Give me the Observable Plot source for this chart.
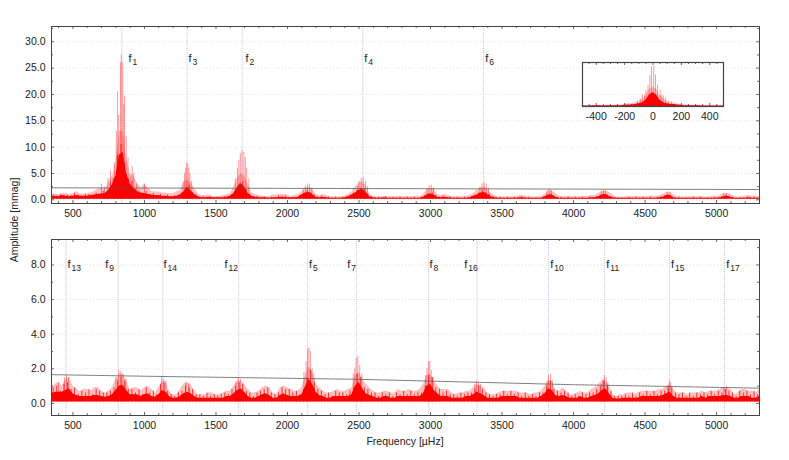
<!DOCTYPE html>
<html>
<head>
<meta charset="utf-8">
<script src="https://cdn.jsdelivr.net/npm/d3@7"></script>
<script src="https://cdn.jsdelivr.net/npm/@observablehq/plot@0.6"></script>
<style>
  body { margin: 0; background: white; font-family: "Liberation Sans", sans-serif; color: #222; }
  #chart { position: relative; width: 789px; height: 460px; overflow: hidden; }
  #chart > div { position: absolute; }
  #chart svg { display: block; }
  .axis-label { font-size: 10.5px; white-space: nowrap; }
</style>
</head>
<body>
<div id="chart">
  <div id="top" style="left:0;top:0"></div>
  <div id="bottom" style="left:0;top:220px"></div>
  <div id="inset" style="left:570px;top:50px"></div>
  <div class="axis-label" style="left:14px;top:220px;transform:translate(-50%,-50%) rotate(-90deg)">Amplitude [mmag]</div>
  <div class="axis-label" style="left:405px;top:441px;transform:translate(-50%,-50%)">Frequency [µHz]</div>
</div>
<script>
const freqGrid = [
  350,375,400,425,450,475,500,525,550,575,600,625,
  650,675,700,725,750,775,800,825,850,875,900,925,
  950,975,1000,1025,1050,1075,1100,1125,1150,1175,1200,1225,
  1250,1275,1300,1325,1350,1375,1400,1425,1450,1475,1500,1525,
  1550,1575,1600,1625,1650,1675,1700,1725,1750,1775,1800,1825,
  1850,1875,1900,1925,1950,1975,2000,2025,2050,2075,2100,2125,
  2150,2175,2200,2225,2250,2275,2300,2325,2350,2375,2400,2425,
  2450,2475,2500,2525,2550,2575,2600,2625,2650,2675,2700,2725,
  2750,2775,2800,2825,2850,2875,2900,2925,2950,2975,3000,3025,
  3050,3075,3100,3125,3150,3175,3200,3225,3250,3275,3300,3325,
  3350,3375,3400,3425,3450,3475,3500,3525,3550,3575,3600,3625,
  3650,3675,3700,3725,3750,3775,3800,3825,3850,3875,3900,3925,
  3950,3975,4000,4025,4050,4075,4100,4125,4150,4175,4200,4225,
  4250,4275,4300,4325,4350,4375,4400,4425,4450,4475,4500,4525,
  4550,4575,4600,4625,4650,4675,4700,4725,4750,4775,4800,4825,
  4850,4875,4900,4925,4950,4975,5000,5025,5050,5075,5100,5125,
  5150,5175,5200,5225,5250,5275,5300
];
const fringeFreq = [
  362,387,412,437,462,487,512,537,562,587,612,637,
  662,687,712,737,762,787,812,837,862,887,912,937,
  962,987,1012,1037,1062,1087,1112,1137,1162,1187,1212,1237,
  1262,1287,1312,1337,1362,1387,1412,1437,1462,1487,1512,1537,
  1562,1587,1612,1637,1662,1687,1712,1737,1762,1787,1812,1837,
  1862,1887,1912,1937,1962,1987,2012,2037,2062,2087,2112,2137,
  2162,2187,2212,2237,2262,2287,2312,2337,2362,2387,2412,2437,
  2462,2487,2512,2537,2562,2587,2612,2637,2662,2687,2712,2737,
  2762,2787,2812,2837,2862,2887,2912,2937,2962,2987,3012,3037,
  3062,3087,3112,3137,3162,3187,3212,3237,3262,3287,3312,3337,
  3362,3387,3412,3437,3462,3487,3512,3537,3562,3587,3612,3637,
  3662,3687,3712,3737,3762,3787,3812,3837,3862,3887,3912,3937,
  3962,3987,4012,4037,4062,4087,4112,4137,4162,4187,4212,4237,
  4262,4287,4312,4337,4362,4387,4412,4437,4462,4487,4512,4537,
  4562,4587,4612,4637,4662,4687,4712,4737,4762,4787,4812,4837,
  4862,4887,4912,4937,4962,4987,5012,5037,5062,5087,5112,5137,
  5162,5187,5212,5237,5262,5287
];

const topPeak = [
  1.0,1.1,1.0,1.1,1.2,1.0,1.1,1.6,1.1,1.1,1.2,1.3,
  1.6,2.0,2.2,1.9,3.5,4.5,7,13,13,8,5,4.5,
  3.2,2.2,3.0,2.2,1.6,1.5,1.5,1.3,1.3,1.1,1.2,1.5,
  1.8,3.2,3.8,3.2,2.2,1.1,.8,.8,.9,.7,.6,.7,
  .8,.9,1.2,2.5,4,5,4.5,3,1.3,1,.8,.7,
  .6,.6,.9,.9,1,1,.9,.6,.8,1,1.5,2.2,
  2.4,2.0,1,.8,1,.8,.6,.6,.6,.6,.7,1,
  1.5,2.5,3.2,3.4,2.6,1,.7,.6,.6,.7,.6,.6,
  .6,.7,.6,.6,.6,.6,.7,.7,1,1.8,2.2,2.0,
  1,.8,1,.8,.6,.6,.6,.6,.7,.8,1.2,1.8,
  2.2,2.5,2.0,1.2,.8,.6,.6,.6,.6,.6,.6,.8,
  .8,.6,.6,.5,.6,.6,1.0,1.7,1.7,1.2,.7,.6,
  .6,.7,.6,.6,.6,.7,.7,.8,.8,1.2,1.6,1.7,
  1.4,.9,.6,.5,.5,.6,.6,.7,.7,.6,.6,.7,
  .7,.7,.8,1.0,1.4,1.4,.9,.6,.6,.5,.6,.6,
  .6,.6,.6,.5,.6,.7,.7,.8,1.2,1.2,1.0,.7,
  .5,.6,.7,.8,.7,.7,.6
];
const topCore = [
  .6,.7,.6,.8,.7,.6,.7,.8,.7,.7,.7,.8,
  .9,1.0,1.1,1.2,1.8,2.8,4.5,8.5,9,5,3,2.2,
  1.6,1.3,1.2,1.0,.9,.8,.8,.7,.7,.6,.6,.7,
  .9,1.5,2.4,1.7,1.0,.6,.4,.4,.5,.4,.4,.4,
  .4,.5,.7,1.2,2.4,3.1,2.4,1.2,.7,.5,.4,.4,
  .4,.3,.4,.4,.5,.5,.4,.4,.4,.5,.9,1.3,
  1.4,1.0,.5,.4,.5,.4,.3,.3,.3,.3,.4,.6,
  .9,1.3,1.8,2.0,1.4,.6,.4,.3,.3,.4,.3,.3,
  .3,.3,.3,.3,.3,.3,.3,.3,.5,.9,1.1,.9,
  .5,.4,.5,.4,.3,.3,.3,.3,.3,.4,.7,.9,
  1.3,1.4,1.0,.6,.4,.3,.3,.3,.3,.3,.3,.4,
  .4,.3,.3,.3,.3,.3,.6,.9,.9,.5,.3,.3,
  .3,.3,.3,.3,.3,.3,.3,.4,.4,.6,.9,1.0,
  .7,.4,.3,.3,.3,.3,.3,.3,.3,.3,.3,.3,
  .3,.3,.4,.5,.8,.8,.4,.3,.3,.3,.3,.3,
  .3,.3,.3,.3,.3,.3,.3,.4,.6,.7,.5,.3,
  .3,.3,.3,.4,.3,.3,.3
];
const topFringe = [
  .9,.7,1.0,.8,.9,.8,1.2,.9,.7,1.0,1.0,.8,
  1.3,1.0,1.6,1.4,3.2,4.2,8.5,10.5,7,4.0,3.5,2.0,
  1.7,1.2,1.6,1.0,1.2,.8,1.0,.7,.9,.6,.8,.9,
  1.3,2.2,2.8,1.4,.9,.5,.6,.4,.6,.3,.5,.4,
  .6,.5,1.0,1.8,3.0,3.4,1.8,1.0,.6,.7,.4,.6,
  .3,.5,.4,.7,.5,.7,.4,.5,.4,.8,1.2,1.7,
  1.4,.9,.5,.7,.4,.5,.3,.5,.3,.5,.6,.8,
  1.3,1.8,2.2,2.0,1.1,.6,.4,.5,.3,.6,.3,.5,
  .3,.5,.3,.5,.3,.5,.3,.5,.8,1.2,1.3,.8,
  .5,.7,.4,.6,.3,.5,.3,.5,.4,.6,.9,1.3,
  1.7,1.4,1.0,.6,.4,.5,.3,.5,.3,.5,.3,.6,
  .4,.5,.3,.4,.3,.5,.9,1.1,.8,.5,.5,.3,
  .5,.3,.5,.3,.5,.3,.5,.4,.6,.9,1.1,.9,
  .6,.4,.3,.4,.3,.5,.3,.5,.3,.5,.3,.5,
  .3,.5,.6,.8,1.0,.7,.4,.5,.3,.4,.3,.5,
  .3,.5,.3,.4,.3,.5,.4,.6,.8,.7,.5,.3,
  .4,.3,.5,.4,.5,.3
];
const topSpikeFreq = [700,720,745,762,778,790,803,811,820,832,838,848,855,860,872,885,900,914,925,945,1000,
  1270,1280,1288,1295,1303,1310,1318,1330,1635,1650,1660,1670,1682,1695,1705,1715,1730,
  2110,2125,2140,2155,2170,2490,2500,2515,2530,2545,2560,2975,2990,3005,3020,3345,3360,3375,3390,3405,
  3815,3830,3845,4195,4210,4225,4655,4675,5050,5070];
const topSpikeAmp = [3.0,2.4,4,5.5,4,7,13,20.5,16,26,27.5,26,18,19.7,12,8,4.5,6.3,5,3,3,
  3.5,5,6,7,6.8,6,5,3.5,4,6,7.5,8.8,9.3,9,8,6,4,
  2,2.7,3,2.9,2.2,2.5,3.5,4.1,4.2,3.5,2.5,2.2,2.7,2.8,2.3,2.4,3,3.3,3,2.2,
  1.7,2,1.8,1.6,1.9,1.7,1.5,1.5,1.2,1.2];

const botPeak = [
  .9,1.1,1.2,1.0,1.4,1.5,1.0,.8,.7,.8,.8,.7,
  .9,.95,.7,.6,.7,.9,1.4,1.7,1.7,1.3,.8,.9,
  .9,.7,.9,1.0,.8,.6,.9,1.3,1.2,.7,.5,.5,
  .8,1.1,1.2,1.1,.7,.5,.5,.5,.6,.6,.5,.5,
  .6,.7,.7,1.0,1.3,1.3,1.1,.8,.6,.6,.7,.9,
  1.0,.9,.6,.5,.9,1.0,.9,.8,.7,.7,.9,1.6,
  2.1,1.8,1.1,.9,.7,.6,.6,.7,.8,.7,.7,.8,
  .9,1.6,1.8,1.4,1.1,.9,.7,.6,.6,.7,.7,.6,
  .6,.8,.7,.7,.8,.7,.7,.8,1.1,1.6,1.7,1.3,
  1.0,.8,.8,.8,.6,.5,.6,.6,.7,.7,.9,1.1,
  1.0,.9,.6,.5,.5,.6,.7,.7,.7,.7,.7,.6,
  .6,.6,.5,.6,.6,.7,1.0,1.3,1.3,.8,.7,.9,
  .7,.5,.5,.6,.7,.6,.6,.8,.9,1.1,1.3,1.3,
  1.0,.5,.4,.5,.5,.6,.6,.5,.6,.7,.7,.7,
  .7,.7,.8,.8,1.0,1.1,.8,.6,.6,.6,.5,.6,
  .6,.6,.7,.6,.7,.7,.7,.8,.9,.9,.8,.5,
  .6,.8,.8,.7,.7,.6,.8
];
const botCore = [
  .55,.65,.65,.65,.75,.85,.55,.45,.4,.4,.4,.4,
  .45,.45,.4,.35,.4,.5,.75,1.0,1.05,.75,.5,.5,
  .5,.4,.5,.55,.4,.35,.5,.75,.65,.4,.3,.3,
  .4,.55,.65,.55,.4,.3,.3,.3,.3,.3,.3,.3,
  .3,.4,.4,.55,.75,.85,.65,.4,.3,.3,.4,.5,
  .55,.45,.3,.3,.45,.55,.45,.4,.4,.4,.5,.95,
  1.4,1.1,.65,.45,.4,.3,.3,.4,.4,.4,.4,.4,
  .5,1.0,1.2,.85,.55,.45,.4,.3,.3,.4,.4,.3,
  .3,.4,.4,.4,.4,.4,.4,.4,.55,1.0,1.1,.75,
  .55,.4,.4,.4,.3,.3,.3,.3,.4,.4,.5,.65,
  .55,.45,.3,.3,.3,.3,.4,.4,.4,.4,.4,.3,
  .3,.3,.3,.3,.3,.4,.55,.85,.75,.45,.4,.45,
  .4,.3,.3,.3,.4,.3,.3,.4,.45,.55,.75,.85,
  .55,.3,.25,.25,.3,.3,.3,.3,.3,.4,.4,.4,
  .4,.4,.4,.45,.55,.65,.4,.3,.3,.3,.3,.3,
  .3,.3,.4,.3,.4,.4,.4,.4,.45,.45,.4,.3,
  .3,.4,.4,.4,.3,.3,.4
];
const botFringe = [
  .9,1.0,.7,1.1,1.2,.8,.9,.5,.7,.6,.8,.5,
  .8,.7,.6,.6,.7,.9,1.3,1.5,1.3,.8,.8,.6,
  .8,.5,.9,.6,.7,.5,1.1,1.2,.7,.5,.4,.6,
  .7,1.0,.9,.8,.5,.5,.4,.6,.4,.5,.4,.5,
  .6,.5,.8,1.0,1.2,1.1,.7,.6,.4,.6,.7,.8,
  .9,.6,.5,.6,.9,.8,.8,.6,.7,.5,.8,1.5,
  1.9,1.2,.8,.7,.5,.6,.4,.7,.6,.6,.5,.7,
  .9,1.7,1.5,.9,.8,.6,.6,.4,.6,.5,.6,.4,
  .6,.5,.7,.5,.7,.5,.6,.6,1.0,1.6,1.5,.9,
  .8,.6,.7,.5,.5,.4,.6,.5,.6,.6,.8,1.0,
  .8,.6,.5,.4,.5,.5,.7,.5,.7,.5,.6,.4,
  .6,.4,.5,.4,.6,.6,1.0,1.3,.8,.7,.6,.7,
  .6,.4,.5,.4,.6,.5,.6,.6,.8,1.0,1.3,1.0,
  .7,.4,.4,.4,.5,.4,.6,.4,.6,.5,.7,.5,
  .7,.5,.7,.7,.9,.9,.6,.5,.6,.4,.6,.4,
  .6,.5,.6,.5,.7,.5,.7,.6,.8,.7,.6,.4,
  .7,.6,.7,.5,.7,.5
];
const botSpikeFreq = [400,440,455,470,800,820,835,850,870,1120,1135,1150,1290,1310,1640,1655,1670,
  2115,2130,2140,2150,2160,2172,2185,2460,2470,2480,2492,2505,2520,
  2965,2975,2985,2995,3005,3018,3310,3320,3335,3350,3815,3825,3840,3852,4195,4205,4215,4228,4240,4660,4670,4680,5050,5070];
const botSpikeAmp = [1.2,1.5,1.6,1.5,1.5,1.9,1.85,1.7,1.4,1.55,1.4,1.3,1.2,1.1,1.2,1.5,1.4,
  1.8,2.4,3.1,3.2,3.0,2.0,1.7,1.7,2,2.6,2.7,2.2,1.7,
  1.6,2.0,2.4,2.45,1.9,1.5,1.1,1.3,1.2,1.1,1.3,1.6,1.7,1.3,1.1,1.4,1.6,1.5,1.2,1.0,1.3,1.2,.9,1.0];

const topLineFreq = [842,1298,1683,2526,3370];
const topNames = ["1","3","2","4","6"];
const topLabelFreq = [888,1307,1706,2537,3383];
const botLineFreq = [451,816,1128,1659,2141,2481,2987,3325,3825,4217,4671,5055];
const botNames = ["13","9","14","12","5","7","8","16","10","11","15","17"];
const botLabelFreq = [462,725,1133,1559,2150,2418,2992,3236,3837,4229,4682,5067];

const topNoiseFreq = [350,2350,5300];
const topNoiseAmp = [2.28,2.15,1.95];
const botNoiseFreq = [350,1000,2500,4000,5300];
const botNoiseAmp = [1.66,1.57,1.39,1.08,.88];

const xTicks = [500,1000,1500,2000,2500,3000,3500,4000,4500,5000];
const xMinor = [400,600,700,800,900,1100,1200,1300,1400,1600,1700,1800,1900,2100,2200,2300,2400,2600,2700,2800,2900,3100,3200,3300,3400,3600,3700,3800,3900,4100,4200,4300,4400,4600,4700,4800,4900,5100,5200,5300];
const topYTicks = [0,5,10,15,20,25,30];
const topYMinor = [2.5,7.5,12.5,17.5,22.5,27.5,32.5];
const botYTicks = [0,2,4,6,8];
const botYMinor = [1,3,5,7,9];

const winFreq = [-500,-475,-450,-425,-400,-375,-350,-325,-300,-275,-250,-225,-200,-175,-150,-125,-100,-75,-50,-25,0,25,50,75,100,125,150,175,200,225,250,275,300,325,350,375,400,425,450,475,500];
const winPeak = [.02,.02,.02,.02,.03,.03,.02,.03,.03,.03,.04,.04,.05,.07,.07,.09,.12,.18,.28,.45,.5,.45,.28,.2,.13,.09,.09,.06,.05,.04,.04,.03,.03,.03,.02,.02,.02,.02,.02,.02,.02];
const winCore = [.01,.01,.01,.02,.02,.02,.01,.02,.02,.02,.02,.02,.03,.04,.04,.05,.07,.1,.16,.3,.36,.3,.16,.1,.07,.05,.05,.04,.03,.02,.02,.02,.02,.02,.01,.01,.01,.01,.01,.01,.01];
const winSpikeFreq = [-110,-90,-75,-60,-50,-35,-22,-10,5,18,32,50,62,72,90,110,130];
const winSpikeAmp = [.14,.2,.3,.28,.42,.55,.8,1.02,1.04,.82,.55,.42,.3,.27,.22,.14,.12];
const winTicks = [-400,-200,0,200,400];
const winMinor = [-450,-350,-300,-250,-150,-100,-50,50,100,150,250,300,350,450];

const plotStyle = { background: "transparent", fontFamily: "Liberation Sans, sans-serif", fontSize: "10.5px", color: "#222" };
const red = "#ff0000";
const tickColor = "#444";

function redMarks(freqs, core, peak, fringe, spikeFreq, spikeAmp, floor) {
  const rows = freqs.map((f, i) => ({ f, core: core[i], peak: peak[i] }));
  const spikes = spikeFreq.map((f, i) => ({ f, a: spikeAmp[i] }));
  const comb = fringe ? fringeFreq.map((f, i) => ({ f, a: fringe[i] })) : [];
  return [
    Plot.areaY(rows, { x: "f", y1: floor, y2: "peak", fill: red, fillOpacity: 0.25 }),
    Plot.ruleX(spikes, { x: "f", y1: floor, y2: "a", stroke: red, strokeOpacity: 0.4, strokeWidth: 1 }),
    Plot.areaY(rows, { x: "f", y1: floor, y2: "core", fill: red }),
    Plot.ruleX(comb, { x: "f", y1: floor, y2: "a", stroke: red, strokeOpacity: 0.75, strokeWidth: 1 })
  ];
}

// gnuplot style ticks: short, pointing into the frame, on all four sides
function tickMarks(xMaj, xMin, innerW, innerH, yMaj, yMin) {
  const sideX = (v, len) => [
    Plot.ruleX(v, { insetTop: innerH - len, stroke: tickColor, strokeWidth: 0.8 }),
    Plot.ruleX(v, { insetBottom: innerH - len, stroke: tickColor, strokeWidth: 0.8 })
  ];
  const sideY = (v, len) => [
    Plot.ruleY(v, { insetRight: innerW - len, stroke: tickColor, strokeWidth: 0.8 }),
    Plot.ruleY(v, { insetLeft: innerW - len, stroke: tickColor, strokeWidth: 0.8 })
  ];
  const out = [
    ...sideX(xMaj, 3), ...sideX(xMin, 2),
    Plot.axisX({ ticks: xMaj, anchor: "bottom", tickSize: 0, tickPadding: 6, label: null, tickFormat: d => String(d) })
  ];
  if (yMaj) {
    out.push(...sideY(yMaj, 3), ...sideY(yMin, 2),
      Plot.axisY({ ticks: yMaj, anchor: "left", tickSize: 0, tickPadding: 6, label: null, tickFormat: d3.format(".1f") }));
  }
  return out;
}

function labelMarks(labelFreq, names, y) {
  const rows = labelFreq.map((f, i) => ({ f, name: names[i] }));
  return [
    Plot.text(rows, { x: "f", y, text: () => "f", textAnchor: "start", fontSize: 11, fill: "#222" }),
    Plot.text(rows, { x: "f", y, text: "name", textAnchor: "start", dx: 4, dy: 3.5, fontSize: 8.5, fill: "#222" })
  ];
}

function panel(o) {
  const noise = o.noiseFreq.map((f, i) => ({ f, a: o.noiseAmp[i] }));
  const innerW = 789 - 51 - 30, innerH = o.height - o.marginTop - o.marginBottom;
  return Plot.plot({
    width: 789, height: o.height,
    marginLeft: 51, marginRight: 30, marginTop: o.marginTop, marginBottom: o.marginBottom,
    style: plotStyle,
    x: { domain: [350, 5300] },
    y: { domain: o.yDomain },
    marks: [
      Plot.ruleY(o.yTicks, { stroke: "#ddd", strokeDasharray: "1,2", strokeWidth: 0.8 }),
      Plot.ruleX(o.lineFreq, { stroke: "#c4c4f2", strokeDasharray: "1,1", strokeWidth: 1 }),
      ...redMarks(freqGrid, o.core, o.peak, o.fringe, o.spikeFreq, o.spikeAmp, o.floor),
      Plot.line(noise, { x: "f", y: "a", stroke: "#555", strokeWidth: 0.8, strokeDasharray: "2,1" }),
      ...labelMarks(o.labelFreq, o.names, o.labelAmp),
      ...tickMarks(xTicks, xMinor, innerW, innerH, o.yTicks, o.yMinor),
      Plot.frame({ stroke: "#444", strokeWidth: 1 })
    ]
  });
}

document.getElementById("top").appendChild(panel({
  height: 220, marginTop: 26, marginBottom: 17, yDomain: [-0.7, 32.9], floor: 0.1,
  yTicks: topYTicks, yMinor: topYMinor, lineFreq: topLineFreq, labelFreq: topLabelFreq, names: topNames,
  labelAmp: 26.8, core: topCore, peak: topPeak, fringe: topFringe, spikeFreq: topSpikeFreq, spikeAmp: topSpikeAmp,
  noiseFreq: topNoiseFreq, noiseAmp: topNoiseAmp
}));

document.getElementById("bottom").appendChild(panel({
  height: 240, marginTop: 19, marginBottom: 45, yDomain: [-0.7, 9.47], floor: 0.08,
  yTicks: botYTicks, yMinor: botYMinor, lineFreq: botLineFreq, labelFreq: botLabelFreq, names: botNames,
  labelAmp: 8.0, core: botCore, peak: botPeak, fringe: botFringe, spikeFreq: botSpikeFreq, spikeAmp: botSpikeAmp,
  noiseFreq: botNoiseFreq, noiseAmp: botNoiseAmp
}));

document.getElementById("inset").appendChild(Plot.plot({
  width: 170, height: 80,
  marginLeft: 12, marginRight: 17, marginTop: 12, marginBottom: 24,
  style: plotStyle,
  x: { domain: [-497, 497] },
  y: { domain: [0, 1.14], axis: null },
  marks: [
    ...redMarks(winFreq, winCore, winPeak, null, winSpikeFreq, winSpikeAmp, 0),
    ...tickMarks(winTicks, winMinor, 141, 44),
    Plot.frame({ stroke: "#444", strokeWidth: 1.2 })
  ]
}));
</script>
</body>
</html>
